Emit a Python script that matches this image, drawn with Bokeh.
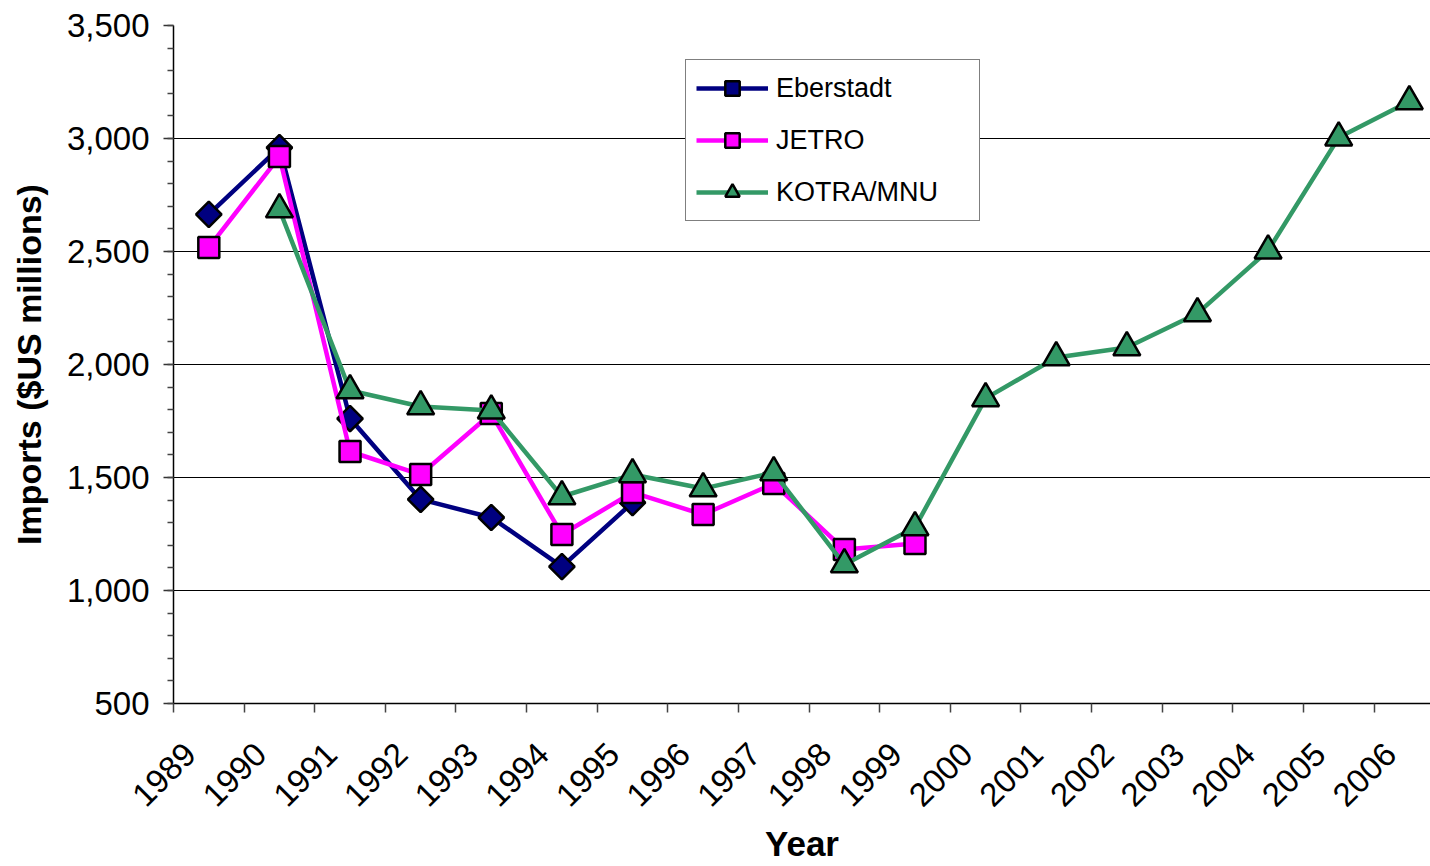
import math
from bokeh.plotting import figure
from bokeh.models import (FixedTicker, CustomJSTickFormatter, Legend, LegendItem,
                          NumeralTickFormatter, Range1d)
from bokeh.embed import file_html
from bokeh.resources import INLINE

# ---- data ----
years = [str(y) for y in range(1989, 2007)]

eberstadt_years = ["1989", "1990", "1991", "1992", "1993", "1994", "1995"]
eberstadt = [2664, 2960, 1761, 1403, 1323, 1106, 1389]

jetro_years = ["1989", "1990", "1991", "1992", "1993", "1994", "1995",
               "1996", "1997", "1998", "1999"]
jetro = [2518, 2920, 1615, 1513, 1783, 1248, 1434, 1336, 1473, 1181, 1208]

kotra_years = ["1990", "1991", "1992", "1993", "1994", "1995", "1996", "1997",
               "1998", "1999", "2000", "2001", "2002", "2003", "2004", "2005", "2006"]
kotra = [2686, 1885, 1814, 1796, 1416, 1513, 1451, 1522, 1115, 1279, 1850,
         2031, 2075, 2226, 2504, 3004, 3164]

y_ticks = [500, 1000, 1500, 2000, 2500, 3000, 3500]
grid_ticks = [1000, 1500, 2000, 2500, 3000]

FONT = "Liberation Sans"

def xpos(yrs):
    return [years.index(y) for y in yrs]

p = figure(width=1430, height=866,
           x_range=Range1d(-0.5, 17.30), y_range=Range1d(500, 3500),
           output_backend="svg", toolbar_location=None,
           min_border_left=173, min_border_right=0, min_border_top=25,
           min_border_bottom=163)
p.outline_line_color = None
p.background_fill_color = "white"
p.border_fill_color = "white"

# x axis: labels anchored just left of category centre, tick marks at category boundaries
n = len(years)
p.xaxis.ticker = FixedTicker(ticks=[i - 0.27 for i in range(n)],
                             minor_ticks=[i - 0.5 for i in range(n + 1)])
p.xaxis.formatter = CustomJSTickFormatter(args=dict(labels=years),
                                          code="return labels[Math.round(tick + 0.27)];")
p.xaxis.major_label_orientation = math.pi / 4
p.xaxis.major_tick_out = 0
p.xaxis.major_tick_in = 0
p.xaxis.minor_tick_out = 9
p.xaxis.minor_tick_in = 0
p.xaxis.minor_tick_line_color = "#444444"
p.xaxis.minor_tick_line_width = 1.5
p.xaxis.major_label_standoff = 36
p.xaxis.major_label_text_font = FONT
p.xaxis.major_label_text_font_size = "33px"
p.xaxis.major_label_text_color = "black"
p.xaxis.axis_label = "Year"
p.xaxis.axis_label_text_font = FONT
p.xaxis.axis_label_text_font_style = "bold"
p.xaxis.axis_label_text_font_size = "35px"
p.xaxis.axis_label_text_color = "black"
p.xaxis.axis_label_standoff = 4
p.xaxis.axis_line_color = "black"
p.xaxis.axis_line_width = 1.5
p.xgrid.visible = False

# y axis
p.yaxis.ticker = FixedTicker(ticks=y_ticks,
                             minor_ticks=list(range(500, 3501, 100)))
p.yaxis.formatter = NumeralTickFormatter(format="0,0")
p.yaxis.major_tick_out = 10
p.yaxis.major_tick_in = 0
p.yaxis.minor_tick_out = 6
p.yaxis.minor_tick_in = 0
p.yaxis.major_tick_line_color = "#333333"
p.yaxis.minor_tick_line_color = "#444444"
p.yaxis.major_tick_line_width = 1.5
p.yaxis.minor_tick_line_width = 1.5
p.yaxis.major_label_standoff = 14
p.yaxis.major_label_text_font = FONT
p.yaxis.major_label_text_font_size = "33px"
p.yaxis.major_label_text_color = "black"
p.yaxis.axis_label = "Imports ($US millions)"
p.yaxis.axis_label_text_font = FONT
p.yaxis.axis_label_text_font_style = "bold"
p.yaxis.axis_label_text_font_size = "34px"
p.yaxis.axis_label_text_color = "black"
p.yaxis.axis_label_standoff = 16
p.yaxis.axis_line_color = "black"
p.yaxis.axis_line_width = 1.5

p.ygrid.ticker = FixedTicker(ticks=grid_ticks)
p.ygrid.grid_line_color = "black"
p.ygrid.grid_line_width = 1

NAVY = "#000080"
MAGENTA = "#FF00FF"
GREEN = "#339966"

l1 = p.line(xpos(eberstadt_years), eberstadt, line_color=NAVY, line_width=4.5)
m1 = p.scatter(xpos(eberstadt_years), eberstadt, marker="square", size=18, angle=math.pi / 4,
               fill_color=NAVY, line_color="black", line_width=2.5)
l2 = p.line(xpos(jetro_years), jetro, line_color=MAGENTA, line_width=4.5)
m2 = p.scatter(xpos(jetro_years), jetro, marker="square", size=21,
               fill_color=MAGENTA, line_color="black", line_width=2.5)
l3 = p.line(xpos(kotra_years), kotra, line_color=GREEN, line_width=4.5)
m3 = p.scatter(xpos(kotra_years), kotra, marker="triangle", size=27,
               fill_color=GREEN, line_color="black", line_width=2.5)

legend = Legend(items=[
    LegendItem(label="Eberstadt", renderers=[l1, m1]),
    LegendItem(label="JETRO", renderers=[l2, m2]),
    LegendItem(label="KOTRA/MNU", renderers=[l3, m3]),
], location=(512, 482))
legend.glyph_width = 72
legend.glyph_height = 36
legend.label_height = 36
legend.label_width = 193
legend.spacing = 16
legend.padding = 10
legend.margin = 0
legend.label_standoff = 8
legend.label_text_font = FONT
legend.label_text_font_size = "27px"
legend.label_text_color = "black"
legend.border_line_color = "black"
legend.border_line_width = 1
legend.background_fill_color = "white"
legend.background_fill_alpha = 1
p.add_layout(legend, "center")

open("out.html", "w").write(file_html(p, INLINE))
